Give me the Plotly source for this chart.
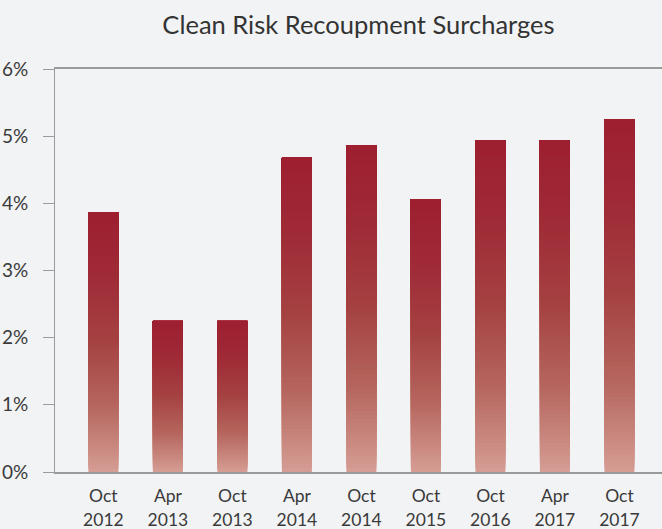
import plotly.graph_objects as go

categories = ["Oct 2012", "Apr 2013", "Oct 2013", "Apr 2014", "Oct 2014",
              "Oct 2015", "Oct 2016", "Apr 2017", "Oct 2017"]
month_labels = ["Oct", "Apr", "Oct", "Apr", "Oct", "Oct", "Oct", "Apr", "Oct"]
year_labels = ["2012", "2013", "2013", "2014", "2014", "2015", "2016", "2017", "2017"]
surcharge_pct = [3.87, 2.25, 2.25, 4.68, 4.86, 4.06, 4.94, 4.94, 5.25]
y_tick_values = [0, 1, 2, 3, 4, 5, 6]
y_tick_labels = ["0%", "1%", "2%", "3%", "4%", "5%", "6%"]

# gradient stops: fraction from bottom -> colour
stops = [(0.0, (0xd5, 0x9d, 0x94)), (0.25, (0xb6, 0x67, 0x5f)),
         (0.5, (0xa5, 0x42, 0x42)), (0.75, (0x9f, 0x2b, 0x37)), (1.0, (0x9d, 0x1f, 0x30))]


def colour_at(f):
    for (f0, c0), (f1, c1) in zip(stops[:-1], stops[1:]):
        if f0 <= f <= f1:
            t = (f - f0) / (f1 - f0)
            c = [round(a + (b - a) * t) for a, b in zip(c0, c1)]
            return "rgb(%d,%d,%d)" % tuple(c)
    return "rgb(%d,%d,%d)" % stops[-1][1]


N = 80
fig = go.Figure()
for k in range(N):
    frac = (k + 0.5) / N
    # each slice runs from its own start up to the bar top; later slices cover earlier ones
    fig.add_trace(go.Bar(
        x=categories,
        y=[v * (1 - k / N) for v in surcharge_pct],
        base=[v * k / N for v in surcharge_pct],
        marker=dict(color=colour_at(frac), line=dict(width=0)),
        width=0.465,
        hoverinfo="skip",
        showlegend=False,
        xaxis="x2" if k == N - 1 else "x",
    ))

fig.update_layout(
    barmode="overlay",
    width=662, height=529,
    margin=dict(l=55, r=0, t=69, b=57),
    paper_bgcolor="#f2f3f5",
    plot_bgcolor="#f2f3f5",
    font=dict(family="Lato, Open Sans, sans-serif", color="#3a3a3a", size=19),
    title=dict(text="Clean Risk Recoupment Surcharges", x=0.5, xanchor="center", xref="paper",
               y=0.953, yanchor="middle", font=dict(size=25.5, color="#333333")),
    xaxis=dict(range=[-0.75, 8.66], showline=True, mirror=True, linecolor="#9a9a9a",
               linewidth=1.5, ticks="", showgrid=False, tickfont=dict(size=17.5),
               tickvals=categories, ticktext=month_labels,
               ticklabelstandoff=7, automargin=False),
    xaxis2=dict(overlaying="x", matches="x", anchor="y", side="bottom",
                showline=False, ticks="", showgrid=False, tickfont=dict(size=17.5),
                tickvals=categories, ticktext=year_labels,
                ticklabelstandoff=35, automargin=False),
    yaxis=dict(range=[0, 6], tickvals=y_tick_values, ticktext=y_tick_labels,
               showline=True, linecolor="#9a9a9a", linewidth=1, ticks="outside",
               ticklen=11, tickcolor="#9a9a9a", showgrid=False, zeroline=False,
               tickfont=dict(size=19), ticklabelstandoff=11, automargin=False),
)

fig.write_html("out.html", config={"displayModeBar": False},
               post_script="document.body.style.margin='0';")
